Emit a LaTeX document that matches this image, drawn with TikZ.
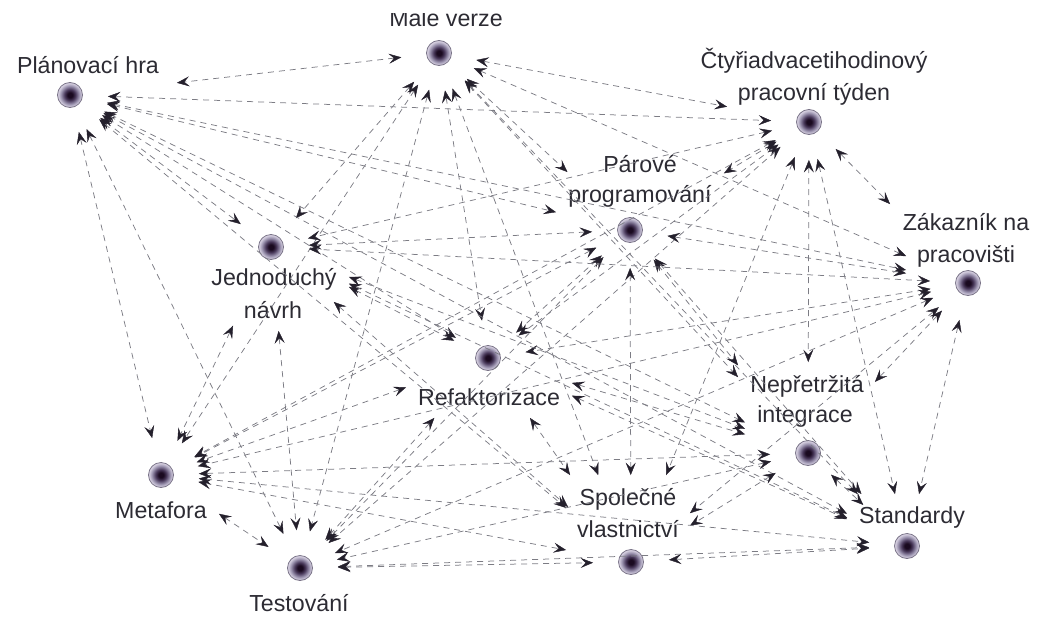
\documentclass[tikz,border=0pt]{standalone}
\usepackage{fontspec}
\setmainfont{Liberation Sans}
\usetikzlibrary{arrows.meta}

\definecolor{inkline}{HTML}{7C7C84}
\definecolor{inktip}{HTML}{24202C}
\definecolor{inktext}{HTML}{2C2B33}
\definecolor{ballcore}{HTML}{1A0A20}
\definecolor{ballmid}{HTML}{4A3A5C}
\definecolor{ballsoft}{HTML}{9A92AE}
\definecolor{ballrim}{HTML}{DAD4E4}
\definecolor{balledge}{HTML}{7A7488}

\pgfdeclareradialshading{practiceball}{\pgfpoint{0bp}{0bp}}{%
  color(0bp)=(ballcore); color(5bp)=(ballcore); color(11bp)=(ballmid);
  color(18bp)=(ballsoft); color(24bp)=(ballrim); color(50bp)=(ballrim)}

\tikzset{
  ball/.style={circle, minimum size=25pt, inner sep=0pt, draw=balledge,
    line width=0.8pt, shading=practiceball},
  lbl/.style={text=inktext, font=\fontsize{23.2}{28}\selectfont, inner sep=0pt, anchor=base},
  tip/.tip={Stealth[length=12.5pt, width=10pt, inset=5pt, color=inktip, fill=inktip, line width=0.4pt]},
  link/.style={draw=inkline, line width=0.75pt, dash pattern=on 6pt off 5pt, tip-tip}
}

% practice data: ball centre, then the text boxes of the (up to two) label lines
\newcommand\practicedata[3]{\expandafter\def\csname pd#1\endcsname{#2,#3}}
\def\parsepd#1,#2,#3,#4,#5,#6,#7,#8,#9\relax{%
  \def\pX{#1}\def\pY{#2}\def\bAa{#3}\def\bAb{#4}\def\bAc{#5}\def\bAd{#6}%
  \parsepdrest#7,#8,#9\relax}
\def\parsepdrest#1,#2,#3,#4\relax{\def\bBa{#1}\def\bBb{#2}\def\bBc{#3}\def\bBd{#4}}
\newcommand\loadpd[1]{\expandafter\expandafter\expandafter\parsepd\csname pd#1\endcsname\relax}

\def\lblgap{12}    % free space kept round a label
\def\ballreach{38} % distance of an arrow tip from a ball centre
\def\minshaft{44}  % shortest visible connector

% first entry of the line (\sX,\sY)+t(\ddx,\ddy) into a label box grown by \lblgap
\newcommand\slabtest[5]{%
  \pgfmathsetmacro\sA{(#1-\lblgap-\sX)/(\ddx)}%
  \pgfmathsetmacro\sB{(#3+\lblgap-\sX)/(\ddx)}%
  \pgfmathsetmacro\sC{(#2-\lblgap-\sY)/(\ddy)}%
  \pgfmathsetmacro\sD{(#4+\lblgap-\sY)/(\ddy)}%
  \pgfmathsetmacro\sIn{max(min(\sA,\sB),min(\sC,\sD))}%
  \pgfmathsetmacro\sOut{min(max(\sA,\sB),max(\sC,\sD))}%
  \pgfmathsetmacro#5{(\sIn<\sOut && \sIn>0) ? \sIn : 9}%
}
% how far the connector #1 -> #2 stops before the ball #2
\newcommand\tipcut[3]{%
  \loadpd{#1}\let\sX\pX\let\sY\pY
  \loadpd{#2}%
  \pgfmathsetmacro\ddx{\pX-\sX}\pgfmathsetmacro\ddy{\pY-\sY}%
  \pgfmathsetmacro\lenL{veclen(\ddx,\ddy)}%
  \slabtest{\bAa}{\bAb}{\bAc}{\bAd}{\hitA}%
  \slabtest{\bBa}{\bBb}{\bBc}{\bBd}{\hitB}%
  \pgfmathsetmacro\tStop{min(1-\ballreach/\lenL,\hitA,\hitB)}%
  \pgfmathsetmacro#3{max((1-\tStop)*\lenL-13,0)}%
}

\practicedata{mv}{439,53}{390,10,503,29, 390,10,503,29}
\practicedata{ph}{70,95}{12,55,165,74, 12,55,165,74}
\practicedata{ct}{809,122}{700,47,928,73, 739,82,891,105}
\practicedata{pp}{630,230}{603,154,677,173, 568,184,712,207}
\practicedata{zp}{968,283}{902,212,1030,231, 918,244,1015,267}
\practicedata{jn}{271,247}{212,267,337,290, 245,300,302,319}
\practicedata{rf}{488,358}{418,388,560,406, 418,388,560,406}
\practicedata{ni}{808,453}{750,374,863,397, 757,405,854,427}
\practicedata{mf}{161,475}{116,501,207,519, 116,501,207,519}
\practicedata{ts}{300,568}{258,593,340,612, 258,593,340,612}
\practicedata{sv}{631,562}{580,487,677,510, 578,519,678,538}
\practicedata{st}{907,546}{859,506,965,528, 859,506,965,528}

\begin{document}
\begin{tikzpicture}[x=1pt, y=-1pt]
\useasboundingbox (0,0) rectangle (1038,621);

% practices
\node[ball] (mv) at (439,53) {};
\node[ball] (ph) at (70,95) {};
\node[ball] (ct) at (809,122) {};
\node[ball] (pp) at (630,230) {};
\node[ball] (zp) at (968,283) {};
\node[ball] (jn) at (271,247) {};
\node[ball] (rf) at (488,358) {};
\node[ball] (ni) at (808,453) {};
\node[ball] (mf) at (161,475) {};
\node[ball] (ts) at (300,568) {};
\node[ball] (sv) at (631,562) {};
\node[ball] (st) at (907,546) {};

% labels
\begin{scope}
  \clip (0,13) rectangle (1038,60);
  \node[lbl] (mvl) at (446,27) {Malé verze};
\end{scope}
\node[lbl] (phl) at (88,73) {Plánovací hra};
\node[lbl] (ctl1) at (814,68) {Čtyřiadvacetihodinový};
\node[lbl] (ctl2) at (814,100) {pracovní týden};
\node[lbl] (ppl1) at (640,172) {Párové};
\node[lbl] (ppl2) at (640,202) {programování};
\node[lbl] (zpl1) at (966,230) {Zákazník na};
\node[lbl] (zpl2) at (966,262) {pracovišti};
\node[lbl] (jnl1) at (274,285) {Jednoduchý};
\node[lbl] (jnl2) at (273,318) {návrh};
\node[lbl] (rfl) at (489,405) {Refaktorizace};
\node[lbl] (nil1) at (807,392) {Nepřetržitá};
\node[lbl] (nil2) at (805,422) {integrace};
\node[lbl] (mfl) at (161,518) {Metafora};
\node[lbl] (tsl) at (299,611) {Testování};
\node[lbl] (svl1) at (628,505) {Společné};
\node[lbl] (svl2) at (628,537) {vlastnictví};
\node[lbl] (stl) at (912,523) {Standardy};

% every practice supports every other one
\foreach \a/\b in {
  mv/ph, mv/ct, mv/pp, mv/zp, mv/jn, mv/rf, mv/ni, mv/mf, mv/ts, mv/sv, mv/st,
  ph/ct, ph/pp, ph/zp, ph/jn, ph/rf, ph/ni, ph/mf, ph/ts, ph/sv, ph/st,
  ct/pp, ct/zp, ct/jn, ct/rf, ct/ni, ct/mf, ct/ts, ct/sv, ct/st,
  pp/zp, pp/jn, pp/rf, pp/ni, pp/mf, pp/ts, pp/sv, pp/st,
  zp/jn, zp/rf, zp/ni, zp/mf, zp/ts, zp/sv, zp/st,
  jn/rf, jn/ni, jn/mf, jn/ts, jn/sv, jn/st,
  rf/ni, rf/mf, rf/ts, rf/sv, rf/st,
  ni/mf, ni/ts, ni/sv, ni/st,
  mf/ts, mf/sv, mf/st,
  ts/sv, ts/st,
  sv/st}
{
  \tipcut{\a}{\b}{\cutEnd}
  \tipcut{\b}{\a}{\cutStart}
  % keep a visible shaft between the two tips on short connectors
  \pgfmathsetmacro\cutScale{min(1,(\lenL-26-\minshaft)/(\cutStart+\cutEnd+0.01))}
  \pgfmathsetmacro\cutStart{\cutStart*\cutScale}
  \pgfmathsetmacro\cutEnd{\cutEnd*\cutScale}
  \draw[link, shorten <=\cutStart pt, shorten >=\cutEnd pt] (\a) -- (\b);
}
\end{tikzpicture}
\end{document}
